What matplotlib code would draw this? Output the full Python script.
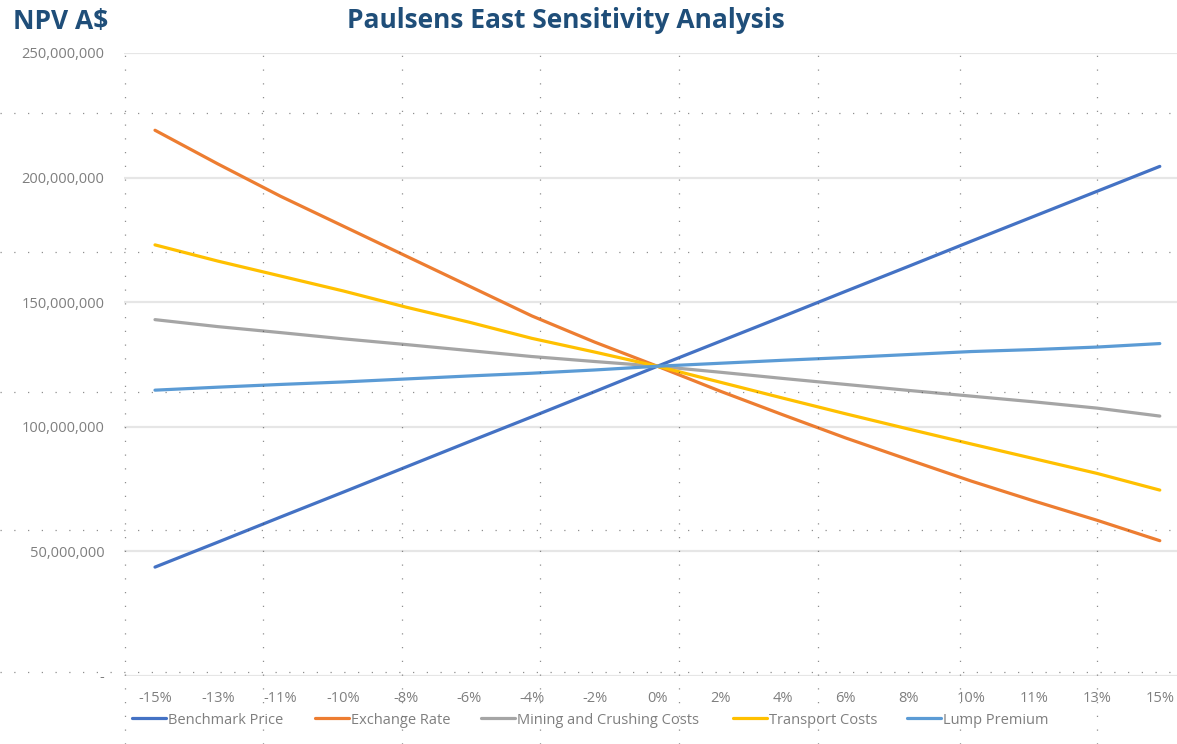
import numpy as np
import matplotlib
matplotlib.use("Agg")
import matplotlib.pyplot as plt
from matplotlib.ticker import FuncFormatter

# Categories (sensitivity change)
categories = ['-15%', '-13%', '-11%', '-10%', '-8%', '-6%', '-4%', '-2%', '0%',
              '2%', '4%', '6%', '8%', '10%', '11%', '13%', '15%']

# NPV in A$ millions
benchmark_price = [43.7, 53.7, 63.8, 73.8, 83.9, 94.0, 104.0, 114.1, 124.3,
                   134.3, 144.3, 154.4, 164.4, 174.5, 184.5, 194.5, 204.5]
exchange_rate = [219.0, 205.5, 192.5, 180.5, 168.5, 156.5, 144.5, 134.0, 124.3,
                 114.3, 104.8, 95.5, 86.8, 78.2, 70.2, 62.5, 54.3]
mining_costs = [143.0, 140.2, 137.8, 135.3, 133.0, 130.6, 128.2, 126.2, 124.3,
                121.9, 119.4, 117.0, 114.6, 112.3, 110.0, 107.5, 104.3]
transport_costs = [173.0, 166.5, 160.5, 154.5, 148.0, 142.0, 135.5, 130.0, 124.3,
                   117.9, 111.5, 105.2, 99.1, 93.1, 87.2, 81.3, 74.6]
lump_premium = [114.7, 115.9, 117.0, 118.0, 119.2, 120.4, 121.5, 122.8, 124.3,
                125.5, 126.7, 127.8, 129.0, 130.2, 131.0, 132.0, 133.4]

series_names = ['Benchmark Price', 'Exchange Rate', 'Mining and Crushing Costs',
                'Transport Costs', 'Lump Premium']
series_data = [benchmark_price, exchange_rate, mining_costs, transport_costs, lump_premium]
colors = ['#4472C4', '#ED7D31', '#A5A5A5', '#FFC000', '#5B9BD5']

W, H = 1177, 744
fig = plt.figure(figsize=(W / 100, H / 100), dpi=100)
plt.rcParams['font.family'] = ['Open Sans', 'DejaVu Sans']

# axes placement in pixels
left_px, right_px, top_px, bottom_px = 124, 1177, 53, 676
ax = fig.add_axes([left_px / W, 1 - bottom_px / H,
                   (right_px - left_px) / W, (bottom_px - top_px) / H])
ax.patch.set_alpha(0)

x = np.arange(len(categories))
handles = []
for name, vals, c in zip(series_names, series_data, colors):
    h, = ax.plot(x, np.array(vals) * 1e6, color=c, lw=2.3, label=name,
                 solid_capstyle='round', zorder=3)
    handles.append(h)

# category spacing ~62.8 px, first category at x=155 px
ax.set_xlim((left_px - 155) / 62.8, (right_px - 155) / 62.8)
ax.set_ylim(0, 250e6)
ax.set_yticks(np.arange(0, 250e6 + 1, 50e6))
ax.yaxis.set_major_formatter(FuncFormatter(lambda v, p: '-' if v == 0 else f'{v:,.0f}'))
ax.set_xticks(x)
ax.set_xticklabels(categories)
ax.grid(axis='y', color='#e6e6e6', lw=1.6, zorder=0)
for s in ax.spines.values():
    s.set_visible(False)
ax.tick_params(axis='both', length=0, colors='#7f7f7f', labelsize=10.5)
ax.tick_params(axis='y', pad=14)
ax.tick_params(axis='x', pad=11)

# legend entries placed like the Excel legend row
legend_x = [132, 315, 481, 733, 907]
for h, name, lx in zip(handles, series_names, legend_x):
    lg = fig.legend([h], [name], loc='center left', bbox_to_anchor=(lx / W, 1 - 720 / H),
                    frameon=False, fontsize=10.5, handlelength=2.3, handletextpad=0.15,
                    borderpad=0, borderaxespad=0)
    for t in lg.get_texts():
        t.set_color('#7f7f7f')

# titles
fig.text(13 / W, 1 - 22 / H, 'NPV A$', fontsize=19, fontweight='bold',
         color='#1F4E79', va='center', ha='left')
fig.text(566 / W, 1 - 20 / H, 'Paulsens East Sensitivity Analysis', fontsize=19,
         fontweight='bold', color='#1F4E79', va='center', ha='center')

# dotted scan pattern over the page
for px in [125, 263, 402, 540, 679, 818, 960, 1097]:
    fig.add_artist(plt.Line2D([px / W, px / W], [0, 1 - 45 / H], transform=fig.transFigure,
                              color='#444444', lw=0.9, ls=(0, (1, 10)), alpha=0.6, zorder=10))
for py in [113, 252, 392, 530, 672]:
    fig.add_artist(plt.Line2D([0, 1], [1 - py / H, 1 - py / H], transform=fig.transFigure,
                              color='#444444', lw=0.9, ls=(0, (1, 10)), alpha=0.6, zorder=10))

fig.savefig('out.png', dpi=100)
